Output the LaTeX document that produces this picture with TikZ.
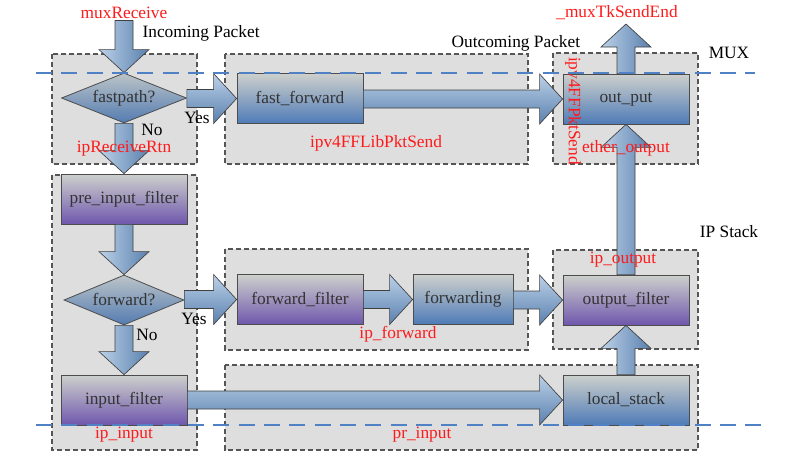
\documentclass[tikz,border=0pt]{standalone}
\usepackage{fontspec}
\setmainfont{Liberation Serif}
\usetikzlibrary{shapes,arrows,positioning,calc}

\definecolor{regionfill}{HTML}{DEDEDE}
\definecolor{regionline}{HTML}{555555}
\definecolor{boxtop}{HTML}{CDD0CC}
\definecolor{boxblue}{HTML}{4F7BB7}
\definecolor{boxpurple}{HTML}{6F57AD}
\definecolor{arrlight}{HTML}{BBD1E8}
\definecolor{arrdark}{HTML}{5A80AE}
\definecolor{muxline}{HTML}{4F81C4}
\definecolor{fnred}{HTML}{FF1A1A}

\newcommand{\diagfont}{\fontsize{13}{15}\selectfont}

\tikzset{
  region/.style={fill=regionfill, draw=regionline, dash pattern=on 4pt off 2pt, line width=0.8pt},
  blockbox/.style={rectangle, draw=black!70, line width=0.6pt, minimum width=94.5pt,
    minimum height=37.5pt, inner sep=0pt, text=black!80, font=\diagfont},
  bluebox/.style={blockbox, top color=boxtop, bottom color=boxblue},
  purplebox/.style={blockbox, top color=boxtop, bottom color=boxpurple},
  decision/.style={diamond, draw=black!70, line width=0.6pt, minimum width=93.75pt,
    minimum height=37.5pt, inner sep=0pt, aspect=2.5, top color=boxtop!85!arrdark,
    bottom color=boxblue!90!gray, text=black!80, font=\diagfont},
  harrow/.style={draw=black!75, line width=0.5pt, top color=arrlight, bottom color=arrdark},
  varrow/.style={draw=black!75, line width=0.5pt, left color=arrlight, right color=arrdark},
  fnlabel/.style={text=fnred, font=\diagfont, inner sep=1pt},
  txtlabel/.style={text=black, font=\diagfont, inner sep=1pt},
  muxbound/.style={muxline, line width=1.5pt, dash pattern=on 12pt off 7pt},
}

% block arrows: #1 = start anchor, #2 = tip anchor
\newcommand{\rightblock}[2]{%
  \path[harrow] ($(#1 |- #2)+(0,-9)$) -- ($(#2)+(-23,-9)$) -- ($(#2)+(-23,-25)$)
    -- (#2) -- ($(#2)+(-23,25)$) -- ($(#2)+(-23,9)$) -- ($(#1 |- #2)+(0,9)$) -- cycle;}
\newcommand{\downblock}[2]{%
  \path[varrow] ($(#2 |- #1)+(-9,0)$) -- ($(#2)+(-9,-23)$) -- ($(#2)+(-25,-23)$)
    -- (#2) -- ($(#2)+(25,-23)$) -- ($(#2)+(9,-23)$) -- ($(#2 |- #1)+(9,0)$) -- cycle;}
\newcommand{\upblock}[2]{%
  \path[varrow] ($(#2 |- #1)+(-9,0)$) -- ($(#2)+(-9,23)$) -- ($(#2)+(-25,23)$)
    -- (#2) -- ($(#2)+(25,23)$) -- ($(#2)+(9,23)$) -- ($(#2 |- #1)+(9,0)$) -- cycle;}

\begin{document}
\begin{tikzpicture}[x=0.75pt, y=-0.75pt]
\useasboundingbox (0,0) rectangle (801,451);

% grey areas
\draw[region] (52,54) rectangle (197,164);
\draw[region] (225,54) rectangle (528,164);
\draw[region] (553,53) rectangle (698,164);
\draw[region] (52,175) rectangle (197,450);
\draw[region] (225,249) rectangle (528,350);
\draw[region] (553,250) rectangle (698,349);
\draw[region] (225,365) rectangle (698,450);

% blocks
\node[decision] (fastpath) at (124,98) {fastpath?};
\node[bluebox] (fastfwd) at (300,98.5) {fast\_forward};
\node[bluebox] (output) at (626,99) {out\_put};
\node[purplebox] (preinput) at (124,199) {pre\_input\_filter};
\node[decision, minimum width=90pt] (forward) at (124,300) {forward?};
\node[purplebox] (fwdfilter) at (300,299.5) {forward\_filter};
\node[bluebox, minimum width=75pt] (forwarding) at (463,299.5) {forwarding};
\node[purplebox] (outfilter) at (626,300) {output\_filter};
\node[purplebox] (inputfilter) at (124,400) {input\_filter};
\node[bluebox] (localstack) at (626,400) {local\_stack};

\node[fnlabel] (muxrx) at (124,13) {muxReceive};
\coordinate (sendtip) at (626,24);

% flow
\downblock{muxrx.south}{fastpath.north}
\downblock{fastpath.south}{preinput.north}
\downblock{preinput.south}{forward.north}
\downblock{forward.south}{inputfilter.north}
\rightblock{fastpath.east}{fastfwd.west}
\rightblock{fastfwd.east}{output.west}
\rightblock{forward.east}{fwdfilter.west}
\rightblock{fwdfilter.east}{forwarding.west}
\rightblock{forwarding.east}{outfilter.west}
\rightblock{inputfilter.east}{localstack.west}
\upblock{localstack.north}{outfilter.south}
\upblock{outfilter.north}{output.south}
\upblock{output.north}{sendtip}

% labels
\node[txtlabel, anchor=west] (incoming) at (141,33) {Incoming Packet};
\node[txtlabel] (yes1) at (197,118) {Yes};
\node[txtlabel] (no1) at (152,130) {No};
\node[fnlabel] (rcvrtn) at (124,149) {ipReceiveRtn};
\node[txtlabel, anchor=west] (outgoing) at (450,43) {Outcoming Packet};
\node[fnlabel] (fflib) at (376,143) {ipv4FFLibPktSend};
\node[txtlabel] (muxname) at (729,53) {MUX};
\node[fnlabel] (sendend) at (617,13) {\_muxTkSendEnd};
\node[fnlabel, rotate=-90] (ffpkt) at (573,111) {ipv4FFPktSend};
\node[fnlabel] (etherout) at (626,148) {ether\_output};
\node[txtlabel] (ipstack) at (729,232) {IP Stack};
\node[fnlabel] (ipout) at (623,260) {ip\_output};
\node[fnlabel] (ipfwd) at (398,334) {ip\_forward};
\node[txtlabel] (yes2) at (194,319) {Yes};
\node[txtlabel] (no2) at (147,335) {No};
\node[fnlabel] (ipin) at (124,435) {ip\_input};
\node[fnlabel] (prin) at (422,435) {pr\_input};

% layer boundaries
\draw[muxbound] (36,73) -- (755,73);
\draw[muxbound] (36,425) -- (765,425);
\end{tikzpicture}
\end{document}
